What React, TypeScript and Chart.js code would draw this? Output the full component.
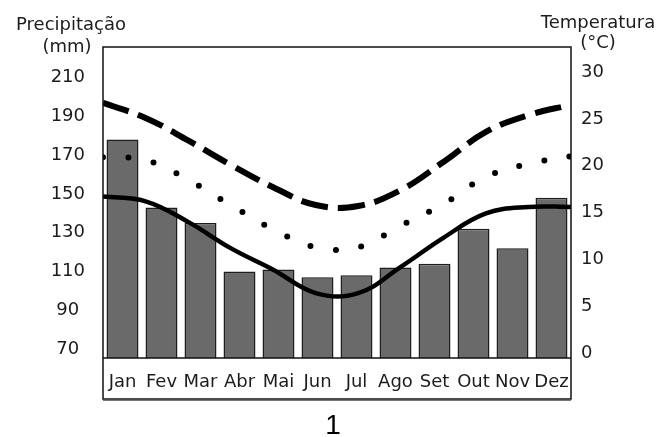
import React, { useEffect, useRef } from "react";
import { Chart, registerables } from "chart.js";

Chart.register(...registerables);

const months = ["Jan", "Fev", "Mar", "Abr", "Mai", "Jun", "Jul", "Ago", "Set", "Out", "Nov", "Dez"];
const precipitation = [178, 143, 135, 110, 111, 107, 108, 112, 114, 132, 122, 148];
const tempMax = [26.7, 25.1, 22.7, 20.1, 17.7, 15.8, 15.7, 17.4, 20.4, 23.6, 25.4, 26.5];
const tempMean = [20.9, 20.6, 18.5, 15.8, 13.2, 11.3, 11.3, 13.6, 15.9, 18.8, 20.2, 21.0];
const tempMin = [16.7, 16.2, 14.0, 11.2, 8.9, 6.4, 6.4, 9.2, 12.3, 14.9, 15.6, 15.6];
const precipTicks = [70, 90, 110, 130, 150, 170, 190, 210];
const tempTicks = [0, 5, 10, 15, 20, 25, 30];
const leftTitle = ["Precipitação", "(mm)"];
const rightTitle = ["Temperatura", "(°C)"];
const chartNumber = "1";

const FONT = '"DejaVu Sans", sans-serif';
const TEXT = "#1c1c1c";

const toPoints = (arr: number[]) => arr.map((y, i) => ({ x: i, y }));

const framePlugin = {
  id: "frame",
  afterDraw(chart: any) {
    const { ctx, chartArea } = chart;
    const { left, right, top, bottom } = chartArea;
    const boxBottom = bottom + 41;
    ctx.save();
    ctx.strokeStyle = "#111";
    ctx.lineWidth = 1.5;
    ctx.beginPath();
    ctx.moveTo(left, top);
    ctx.lineTo(right, top);
    ctx.lineTo(right, boxBottom);
    ctx.lineTo(left, boxBottom);
    ctx.closePath();
    ctx.moveTo(left, bottom);
    ctx.lineTo(right, bottom);
    ctx.stroke();
    ctx.strokeStyle = "#777";
    ctx.lineWidth = 1.2;
    ctx.beginPath();
    ctx.moveTo(left, boxBottom + 1.5);
    ctx.lineTo(right, boxBottom + 1.5);
    ctx.stroke();

    ctx.fillStyle = TEXT;
    ctx.font = `18px ${FONT}`;
    ctx.textAlign = "center";
    ctx.textBaseline = "alphabetic";
    ctx.fillText(leftTitle[0], 71, 30);
    ctx.fillText(leftTitle[1], 67, 52);
    ctx.fillText(rightTitle[0], 598, 28);
    ctx.fillText(rightTitle[1], 598, 48);

    ctx.fillStyle = "#000";
    ctx.font = `28px "Liberation Sans", Arial, sans-serif`;
    ctx.fillText(chartNumber, 333, 434);
    ctx.restore();
  },
};

export default function App() {
  const ref = useRef<HTMLCanvasElement | null>(null);

  useEffect(() => {
    if (!ref.current) return;
    const chart = new Chart(ref.current, {
      type: "bar",
      data: {
        labels: months,
        datasets: [
          {
            type: "bar",
            label: "Precipitação",
            data: precipitation,
            xAxisID: "x",
            yAxisID: "y",
            backgroundColor: "#6a6a6a",
            borderColor: "#1e1e1e",
            borderWidth: 1.5,
            grouped: false,
            barPercentage: 0.82,
            categoryPercentage: 1,
            order: 2,
          } as any,
          {
            type: "line",
            label: "Máxima",
            data: toPoints(tempMax),
            xAxisID: "xl",
            yAxisID: "y2",
            borderColor: "#000",
            borderWidth: 6,
            borderDash: [27, 10],
            borderCapStyle: "butt",
            pointRadius: 0,
            tension: 0.4,
            fill: false,
            order: 1,
          } as any,
          {
            type: "line",
            label: "Média",
            data: toPoints(tempMean),
            xAxisID: "xl",
            yAxisID: "y2",
            borderColor: "#000",
            borderWidth: 6,
            borderDash: [0, 25.5],
            borderCapStyle: "round",
            pointRadius: 0,
            tension: 0.4,
            fill: false,
            order: 1,
          } as any,
          {
            type: "line",
            label: "Mínima",
            data: toPoints(tempMin),
            xAxisID: "xl",
            yAxisID: "y2",
            borderColor: "#000",
            borderWidth: 4.5,
            pointRadius: 0,
            tension: 0.4,
            fill: false,
            order: 1,
          } as any,
        ],
      },
      options: {
        animation: false,
        responsive: false,
        layout: { padding: { top: 47, left: 0, right: 0, bottom: 0 } },
        plugins: {
          legend: { display: false },
          tooltip: { enabled: false },
        },
        scales: {
          x: {
            type: "category",
            position: "bottom",
            offset: true,
            grid: { display: false, drawTicks: false },
            border: { display: false },
            ticks: {
              color: TEXT,
              font: { family: FONT, size: 18 },
              padding: 14,
              maxRotation: 0,
              autoSkip: false,
            },
            afterFit: (s: any) => {
              s.height = 79;
            },
          },
          xl: {
            type: "linear",
            display: false,
            min: 0,
            max: 11,
            offset: false,
          },
          y: {
            type: "linear",
            position: "left",
            min: 65.4,
            max: 225.7,
            grid: { display: false, drawTicks: false },
            border: { display: false },
            afterBuildTicks: (s: any) => {
              s.ticks = precipTicks.map((v) => ({ value: v }));
            },
            ticks: {
              color: TEXT,
              font: { family: FONT, size: 18 },
              padding: 18,
              crossAlign: "center",
            },
            afterFit: (s: any) => {
              s.width = 103;
            },
          },
          y2: {
            type: "linear",
            position: "right",
            min: -0.53,
            max: 32.67,
            grid: { display: false, drawTicks: false },
            border: { display: false },
            afterBuildTicks: (s: any) => {
              s.ticks = tempTicks.map((v) => ({ value: v }));
            },
            ticks: {
              color: TEXT,
              font: { family: FONT, size: 18 },
              padding: 10,
            },
            afterFit: (s: any) => {
              s.width = 88;
            },
          },
        },
      } as any,
      plugins: [framePlugin],
    });
    return () => chart.destroy();
  }, []);

  return (
    <div style={{ position: "fixed", left: 0, top: 0, width: 659, height: 437, background: "#fff" }}>
      <canvas ref={ref} width={659} height={437} style={{ width: 659, height: 437 }} />
    </div>
  );
}
